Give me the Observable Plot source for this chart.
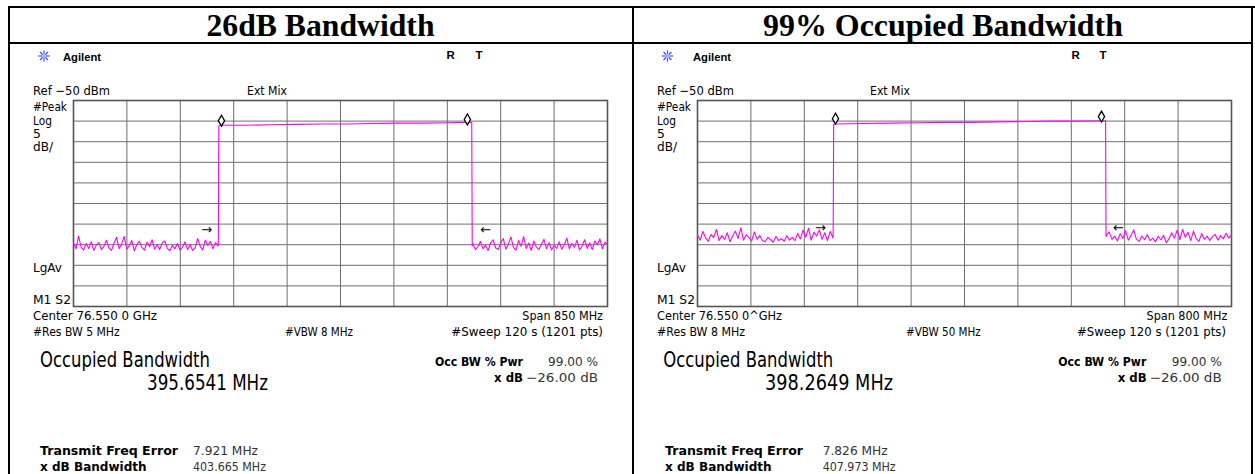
<!DOCTYPE html>
<html><head><meta charset="utf-8">
<script src="https://cdn.jsdelivr.net/npm/d3@7"></script>
<script src="https://cdn.jsdelivr.net/npm/@observablehq/plot@0.6"></script>
<style>
html,body{margin:0;padding:0;background:#fff;}
#page{position:relative;width:1255px;height:474px;overflow:hidden;background:#fff;}
.plotbox{position:absolute;}
#overlay{position:absolute;left:0;top:0;}
</style></head><body><div id="page"></div>
<script>
// ---------------- DATA ----------------
const titles = ["26dB Bandwidth", "99% Occupied Bandwidth"];
const centerMHz = 76550;
const spans = [850, 800];                // MHz
const refLevel = -50, dbPerDiv = 5;      // dBm, dB/div
const leftDivs  = [-425,-340,-255,-170,-85,0,85,170,255,340,425];   // MHz offset from center
const rightDivs = [-400,-320,-240,-160,-80,0,80,160,240,320,400];
const dbDivs = [-100,-95,-90,-85,-80,-75,-70,-65,-60,-55,-50];

const centerLabels = ["Center 76.550 0 GHz", "Center 76.550 0^GHz"];
const spanLabels = ["Span 850 MHz", "Span 800 MHz"];
const rbwLabels = ["#Res BW 5 MHz", "#Res BW 8 MHz"];
const vbwLabels = ["#VBW 8 MHz", "#VBW 50 MHz"];
const sweepLabel = "#Sweep 120 s (1201 pts)";
const occBwValues = ["395.6541 MHz", "398.2649 MHz"];
const txErrValues = ["7.921 MHz", "7.826 MHz"];
const xdbBwValues = ["403.665 MHz", "407.973 MHz"];
const occPwr = "99.00 %";
const xdbSetting = "\u221226.00 dB";

// Left panel trace (MHz offset from center, dBm)
const L_noiseA_range = [-425, -195];
const L_noiseA = [-84.6,-86.0,-82.9,-85.6,-86.3,-84.7,-85.9,-84.3,-86.4,-85.1,-84.5,-86.2,-85.4,-83.9,-85.8,-86.4,-84.6,-83.2,-86.0,-84.8,-83.0,-86.1,-85.3,-84.0,-86.5,-84.9,-84.2,-85.7,-86.3,-84.4,-85.5,-83.8,-86.1,-85.0,-86.2,-84.6,-84.1,-85.9,-86.5,-85.2,-86.0,-84.7,-86.3,-85.6,-84.3,-86.2,-85.0,-86.4,-85.7,-83.5,-85.4,-86.3,-83.9,-85.2,-84.2,-86.0,-84.5,-85.3];
const L_topF = [-194.5,-193.7,-191,-150,-110,-70,-30,10,50,90,130,170,200,208.9,209.7];
const L_topV = [-85.2,-56.2,-56.0,-56.0,-55.9,-55.8,-55.7,-55.7,-55.6,-55.5,-55.5,-55.4,-55.3,-55.3,-85.3];
const L_noiseB_range = [210.6, 425];
const L_noiseB = [-84.7,-86.2,-85.5,-84.2,-86.0,-85.1,-86.4,-84.6,-83.8,-85.8,-86.2,-84.5,-83.5,-86.1,-84.9,-83.1,-85.7,-86.3,-84.0,-85.4,-83.0,-85.9,-84.6,-86.4,-84.1,-85.6,-86.2,-84.9,-83.7,-86.0,-84.5,-86.3,-85.2,-85.9,-84.3,-86.1,-85.0,-83.4,-86.0,-84.7,-85.6,-83.9,-86.3,-85.3,-83.8,-85.9,-84.6,-86.2,-84.1,-85.0,-83.6,-86.0,-84.4,-84.9];
const L_markers = [{f:-189.5, v:-54.9}, {f:202, v:-54.6}];
const L_arrows = [{f:-213, v:-81.3, t:"\u2192"}, {f:231, v:-81.3, t:"\u2190"}];

// Right panel trace
const R_noiseA_range = [-400, -197.2];
const R_noiseA = [-82.6,-83.9,-81.8,-83.4,-84.2,-82.5,-83.3,-81.3,-84.0,-82.8,-83.7,-82.1,-84.3,-82.9,-81.7,-83.5,-80.9,-83.9,-82.6,-83.3,-84.1,-81.9,-83.7,-82.8,-84.0,-84.3,-83.2,-83.8,-84.4,-83.0,-84.0,-83.5,-84.2,-82.8,-83.9,-83.2,-84.0,-82.3,-83.6,-81.5,-83.2,-81.0,-83.9,-82.0,-82.9,-81.4,-83.7,-82.1,-84.0,-81.8,-83.3];
const R_topF = [-196.8,-196.0,-193,-150,-110,-70,-30,10,50,90,130,170,205,211.4,212.0];
const R_topV = [-83.3,-55.8,-55.7,-55.6,-55.5,-55.4,-55.3,-55.3,-55.2,-55.1,-55.0,-55.0,-54.9,-54.9,-83.0];
const R_noiseB_range = [212.8, 400];
const R_noiseB = [-82.7,-81.9,-83.7,-82.9,-84.1,-82.3,-83.5,-81.6,-83.9,-82.8,-81.4,-83.7,-84.2,-82.9,-83.8,-82.5,-84.0,-83.4,-84.3,-83.0,-83.8,-82.7,-84.5,-83.6,-82.1,-83.4,-81.5,-83.8,-81.3,-83.2,-82.0,-84.0,-81.7,-83.5,-84.2,-82.3,-83.7,-82.9,-84.0,-83.1,-82.5,-83.9,-82.8,-83.6,-82.2,-83.4,-82.6];
const R_markers = [{f:-193.3, v:-54.4}, {f:205.2, v:-53.9}];
const R_arrows = [{f:-215.7, v:-80.8, t:"\u2192"}, {f:230.7, v:-80.8, t:"\u2190"}];

// ---------------- BUILD ----------------
function buildTrace(nA, rA, topF, topV, nB, rB) {
  const pts = [];
  nA.forEach((v, i) => pts.push({f: rA[0] + (rA[1] - rA[0]) * i / (nA.length - 1), v}));
  topF.forEach((f, i) => pts.push({f, v: topV[i]}));
  nB.forEach((v, i) => pts.push({f: rB[0] + (rB[1] - rB[0]) * i / (nB.length - 1), v}));
  return pts;
}
const traces = [
  buildTrace(L_noiseA, L_noiseA_range, L_topF, L_topV, L_noiseB, L_noiseB_range),
  buildTrace(R_noiseA, R_noiseA_range, R_topF, R_topV, R_noiseB, R_noiseB_range)
];
const markers = [L_markers, R_markers];
const arrows = [L_arrows, R_arrows];
const divs = [leftDivs, rightDivs];

const page = document.getElementById("page");
const M = 4;
const plotLeft = [73, 697], plotTop = 100, plotW = 534, plotH = 206;

[0, 1].forEach(i => {
  const half = spans[i] / 2;
  const chart = Plot.plot({
    width: plotW + 2 * M, height: plotH + 2 * M,
    marginLeft: M, marginRight: M, marginTop: M, marginBottom: M,
    style: {background: "transparent", overflow: "visible"},
    x: {domain: [-half, half], axis: null},
    y: {domain: [refLevel - 10 * dbPerDiv, refLevel], axis: null},
    marks: [
      Plot.ruleX(divs[i], {stroke: "#6f6f6f", strokeWidth: 1}),
      Plot.ruleY(dbDivs, {stroke: "#6f6f6f", strokeWidth: 1}),
      Plot.frame({stroke: "#555", strokeWidth: 1.6}),
      Plot.line(traces[i], {x: "f", y: "v", stroke: "#ff00ff", strokeWidth: 1.1}),
      Plot.dot(markers[i], {x: "f", y: "v", symbol: "diamond", r: 3.3, stroke: "#000", fill: "#fff", strokeWidth: 1.3}),
      Plot.text(arrows[i], {x: "f", y: "v", text: "t", fontSize: 13, fill: "#000", fontFamily: "DejaVu Sans"})
    ]
  });
  const box = document.createElement("div");
  box.className = "plotbox";
  box.style.left = (plotLeft[i] - M) + "px";
  box.style.top = (plotTop - M) + "px";
  box.appendChild(chart);
  page.appendChild(box);
});

// ---------------- OVERLAY (table + annotation text) ----------------
const svg = d3.select(page).append("svg").attr("id", "overlay")
  .attr("width", 1255).attr("height", 474);

// table borders
[[8, 6, 1247, 2], [8, 42, 1245, 2], [8, 6, 2, 468], [632, 6, 2, 468], [1251, 6, 2, 468]]
  .forEach(([x, y, w, h]) => svg.append("rect").attr("x", x).attr("y", y).attr("width", w).attr("height", h).attr("fill", "#000"));

// titles
[[320.5, 228], [943, 360]].forEach(([cx, w], i) => {
  svg.append("text").attr("x", cx - w / 2).attr("y", 36)
    .attr("textLength", w).attr("lengthAdjust", "spacingAndGlyphs")
    .attr("font-family", "'Liberation Serif','Times New Roman',serif")
    .attr("font-weight", "bold").attr("font-size", 32).attr("fill", "#000")
    .text(titles[i]);
});

function txt(t, x, y, o = {}) {
  const size = o.size || 12.4;
  const el = svg.append("text")
    .attr("y", y)
    .attr("font-family", o.family || "'DejaVu Sans',sans-serif")
    .attr("font-size", size)
    .attr("font-weight", o.bold ? "bold" : "normal")
    .attr("fill", o.fill || "#000")
    .text(t);
  let xx = x;
  if (o.w) {
    el.attr("textLength", o.w).attr("lengthAdjust", "spacingAndGlyphs");
    if (o.right) xx = x - o.w;
  } else if (o.right) {
    el.attr("text-anchor", "end");
  }
  el.attr("x", xx);
}

function star(cx, cy) {
  const g = svg.append("g").attr("stroke", "#3a4dff").attr("stroke-width", 1.2);
  for (let k = 0; k < 8; k++) {
    const a = k * Math.PI / 4;
    g.append("line").attr("x1", cx + 1.8 * Math.cos(a)).attr("y1", cy + 1.8 * Math.sin(a))
      .attr("x2", cx + 5.6 * Math.cos(a)).attr("y2", cy + 5.6 * Math.sin(a));
  }
  g.append("circle").attr("cx", cx).attr("cy", cy).attr("r", 1.5).attr("fill", "#9aa6ff").attr("stroke", "none");
}

const P = [
  {o: 0, star: 44, agil: 63, R: 446.5, T: 475.5, ext: 247, vbw: 285, vbwW: 68, right: 603, sweepR: 603, sweepW: 151.7,
   cenW: 124, rbwW: 86.7, occX: 40, valX: 147, valW: 121, pwrX: 435, pwrR: 598, xdbR: 523, infoX: 40, infoV: 193},
  {o: 624, star: 667.5, agil: 693, R: 1071.5, T: 1099.5, ext: 870, vbw: 906, vbwW: 74.7, right: 1227.3, sweepR: 1226, sweepW: 149,
   cenW: 125, rbwW: 88, occX: 663.3, valX: 765, valW: 128, pwrX: 1058.3, pwrR: 1221.7, xdbR: 1146.7, infoX: 665, infoV: 822.7}
];
const sans = "'Liberation Sans',Arial,sans-serif";

P.forEach((p, i) => {
  const lx = 33 + p.o;
  star(p.star, 56);
  txt("Agilent", p.agil, 60.5, {family: sans, bold: true, size: 11, w: 38});
  txt("R", p.R, 58.5, {family: sans, bold: true, size: 11.5});
  txt("T", p.T, 58.5, {family: sans, bold: true, size: 11.5});
  txt("Ref \u221250 dBm", lx, 95, {w: 77});
  txt("Ext Mix", p.ext, 95, {w: 40});
  txt("#Peak", lx, 110.5, {w: 34});
  txt("Log", lx, 124.5, {w: 19});
  txt("5", lx, 137.5, {});
  txt("dB/", lx, 150.5, {w: 20});
  txt("LgAv", lx, 271.5, {w: 29});
  txt("M1  S2", lx, 304, {w: 38});
  txt(centerLabels[i], lx, 320, {w: p.cenW});
  txt(spanLabels[i], p.right, 320, {w: 80.7, right: true});
  txt(rbwLabels[i], lx, 336, {w: p.rbwW});
  txt(vbwLabels[i], p.vbw, 336, {w: p.vbwW});
  txt(sweepLabel, p.sweepR, 336, {w: p.sweepW, right: true});
  txt("Occupied Bandwidth", p.occX, 366.5, {size: 20.5, w: 170});
  txt(occBwValues[i], p.valX, 390, {size: 20.5, w: p.valW});
  txt("Occ BW % Pwr", p.pwrX, 366, {bold: true, size: 13, w: 88});
  txt(occPwr, p.pwrR, 366, {w: 50, right: true, fill: "#333"});
  txt("x dB", p.xdbR, 381.5, {bold: true, size: 13, w: 29, right: true});
  txt(xdbSetting, p.pwrR, 381.5, {w: 72, right: true, fill: "#333"});
  txt("Transmit Freq Error", p.infoX, 455, {bold: true, size: 13, w: 138});
  txt(txErrValues[i], p.infoV, 455, {w: 65, fill: "#333"});
  txt("x dB Bandwidth", p.infoX, 470.5, {bold: true, size: 13, w: 106.7});
  txt(xdbBwValues[i], p.infoV, 470.5, {w: 73, fill: "#333"});
});
</script></body></html>
